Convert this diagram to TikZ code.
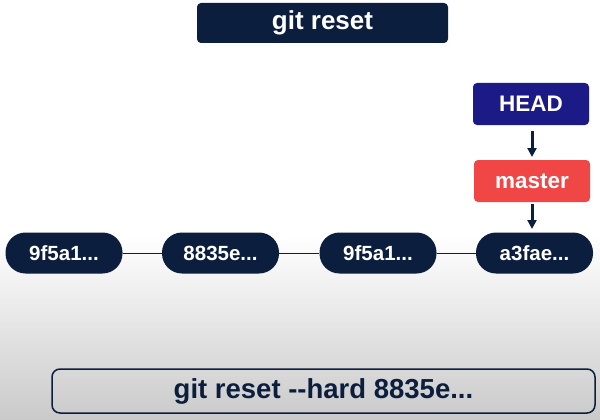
\documentclass[tikz,border=0pt]{standalone}
\usepackage{fontspec}
\setmainfont{Liberation Sans}
\usetikzlibrary{arrows.meta}
\definecolor{navy}{HTML}{0B1E3E}
\definecolor{headblue}{HTML}{1C1A86}
\definecolor{mred}{HTML}{F04646}
\definecolor{bggray}{HTML}{CACACA}
\tikzset{
  commit/.style={rounded corners=20pt, fill=navy, minimum width=117pt, minimum height=41pt, text=white, font=\fontsize{20.5}{24}\selectfont\bfseries},
  refbox/.style={rounded corners=4pt, minimum width=116pt, minimum height=42pt, text=white, font=\fontsize{22.5}{26}\selectfont\bfseries},
  arr/.style={-{Triangle[length=9pt,width=9pt]}, line width=3pt, draw=navy},
  link/.style={draw=navy, line width=1pt}
}
\begin{document}
\begin{tikzpicture}[x=1pt,y=-1pt]
\useasboundingbox (0,0) rectangle (600,420);
\fill[white] (0,0) rectangle (600,235);
\shade[top color=white, bottom color=bggray] (0,235) rectangle (600,420);
\node[rounded corners=4pt, fill=navy, minimum width=251pt, minimum height=40pt, text=white, font=\fontsize{26}{30}\selectfont\bfseries] (title) at (322.5,23) {git reset};
\node[refbox, fill=headblue] (head) at (531,104) {HEAD};
\node[refbox, fill=mred] (master) at (532,181) {master};
\node[commit] (c1) at (64,253) {9f5a1...};
\node[commit] (c2) at (220.5,253) {8835e...};
\node[commit] (c3) at (378,253) {9f5a1...};
\node[commit] (c4) at (534.5,253) {a3fae...};
\draw[link] (c1) -- (c2);
\draw[link] (c2) -- (c3);
\draw[link] (c3) -- (c4);
\coordinate (a1s) at (532,131);
\coordinate (a1e) at (532,157);
\coordinate (a2s) at (532,204);
\coordinate (a2e) at (532,229);
\draw[arr] (a1s) -- (a1e);
\draw[arr] (a2s) -- (a2e);
\node[draw=navy, line width=1.5pt, rounded corners=8pt, minimum width=543pt, minimum height=44pt, text=navy, font=\fontsize{27.5}{32}\selectfont\bfseries] (cmd) at (323.5,391) {git reset {-}{-}hard 8835e...};
\end{tikzpicture}
\end{document}
